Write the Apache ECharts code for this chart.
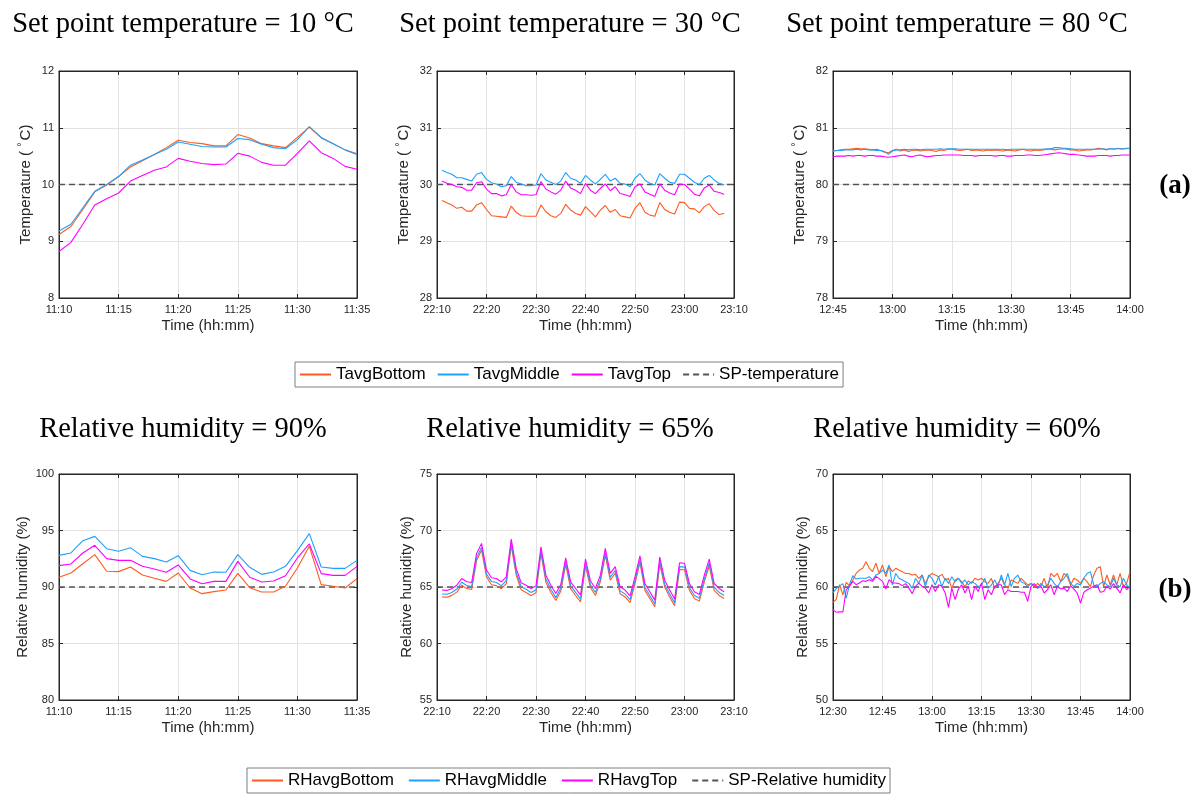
<!DOCTYPE html>
<html>
<head>
<meta charset="utf-8">
<script src="https://cdn.jsdelivr.net/npm/echarts@6/dist/echarts.min.js"></script>
<style>
  html, body { margin: 0; padding: 0; background: #fff; }
  #chart { width: 1199px; height: 794px; }
</style>
</head>
<body>
<div id="chart"></div>
<script>
// ---- data (times in minutes after midnight) ----
const tempTitles = ['Set point temperature = 10 °C', 'Set point temperature = 30 °C', 'Set point temperature = 80 °C'];
const rhTitles = ['Relative humidity = 90%', 'Relative humidity = 65%', 'Relative humidity = 60%'];
const tempNames = ['TavgBottom', 'TavgMiddle', 'TavgTop', 'SP-temperature'];
const rhNames = ['RHavgBottom', 'RHavgMiddle', 'RHavgTop', 'SP-Relative humidity'];
const spTemp = [10, 30, 80];
const spRH = [90, 65, 60];

// sample start (min) and step (min) of each panel
const sampleStart = [670, 1331, 765, 670, 1331, 750];
const sampleStep = [1, 1, 1, 1, 1, 1];

// panel 1: 10 °C, 11:10-11:35
const t10Bottom = [9.12, 9.26, 9.56, 9.87, 9.99, 10.14, 10.31, 10.42, 10.53, 10.65, 10.78, 10.74, 10.72, 10.68, 10.68, 10.88, 10.82, 10.72, 10.68, 10.65, 10.83, 11.01, 10.82, 10.72, 10.61, 10.54];
const t10Middle = [9.18, 9.30, 9.59, 9.88, 10.00, 10.14, 10.34, 10.43, 10.53, 10.62, 10.75, 10.71, 10.67, 10.66, 10.66, 10.81, 10.79, 10.71, 10.65, 10.63, 10.79, 11.02, 10.83, 10.72, 10.61, 10.53];
const t10Top = [8.82, 8.98, 9.30, 9.64, 9.75, 9.85, 10.06, 10.16, 10.25, 10.31, 10.46, 10.41, 10.37, 10.35, 10.36, 10.55, 10.50, 10.39, 10.34, 10.34, 10.55, 10.77, 10.56, 10.46, 10.32, 10.27];

// panel 2: 30 °C, 22:11-23:08
const t30Bottom = [29.72, 29.68, 29.64, 29.58, 29.60, 29.53, 29.53, 29.64, 29.68, 29.56,
  29.45, 29.44, 29.43, 29.42, 29.62, 29.51, 29.45, 29.44, 29.44, 29.44,
  29.64, 29.52, 29.45, 29.42, 29.49, 29.65, 29.55, 29.49, 29.46, 29.61,
  29.52, 29.43, 29.55, 29.63, 29.51, 29.56, 29.45, 29.43, 29.41, 29.58,
  29.68, 29.51, 29.46, 29.44, 29.68, 29.56, 29.51, 29.48, 29.69, 29.68,
  29.58, 29.57, 29.50, 29.61, 29.66, 29.54, 29.47, 29.49];
const t30Middle = [30.25, 30.21, 30.18, 30.12, 30.12, 30.09, 30.06, 30.18, 30.21, 30.09,
  30.03, 30.01, 29.96, 29.98, 30.14, 30.04, 30.01, 29.98, 29.98, 29.99,
  30.19, 30.08, 30.04, 30.00, 30.06, 30.21, 30.11, 30.08, 30.02, 30.16,
  30.08, 30.01, 30.09, 30.18, 30.06, 30.11, 30.02, 30.01, 29.96, 30.11,
  30.19, 30.08, 30.02, 29.99, 30.19, 30.11, 30.04, 30.02, 30.18, 30.18,
  30.11, 30.04, 30.00, 30.11, 30.16, 30.08, 30.02, 29.99];
const t30Top = [30.06, 30.02, 30.00, 29.96, 29.95, 29.90, 29.90, 30.03, 30.05, 29.92,
  29.84, 29.84, 29.80, 29.82, 30.00, 29.87, 29.82, 29.82, 29.81, 29.82,
  30.05, 29.92, 29.87, 29.83, 29.90, 30.06, 29.94, 29.90, 29.84, 30.02,
  29.90, 29.84, 29.93, 30.01, 29.89, 29.96, 29.84, 29.82, 29.79, 29.96,
  30.01, 29.87, 29.83, 29.79, 30.01, 29.90, 29.85, 29.82, 30.01, 30.00,
  29.92, 29.83, 29.80, 29.94, 29.99, 29.88, 29.86, 29.83];

// panel 3: 80 °C, 12:45-14:00
const t80Bottom = [80.59, 80.60, 80.61, 80.62, 80.62, 80.63, 80.64, 80.63, 80.63, 80.62,
  80.61, 80.62, 80.60, 80.57, 80.56, 80.60, 80.62, 80.59, 80.61, 80.58,
  80.60, 80.61, 80.59, 80.60, 80.61, 80.60, 80.58, 80.61, 80.60, 80.62,
  80.62, 80.61, 80.60, 80.61, 80.62, 80.60, 80.61, 80.60, 80.59, 80.61,
  80.60, 80.61, 80.60, 80.59, 80.61, 80.60, 80.59, 80.61, 80.62, 80.60,
  80.59, 80.61, 80.60, 80.61, 80.62, 80.62, 80.61, 80.62, 80.63, 80.62,
  80.61, 80.61, 80.59, 80.60, 80.61, 80.61, 80.62, 80.64, 80.63, 80.61,
  80.63, 80.62, 80.64, 80.62, 80.64, 80.64];
const t80Middle = [80.59, 80.60, 80.60, 80.61, 80.61, 80.61, 80.62, 80.61, 80.62, 80.61,
  80.61, 80.60, 80.60, 80.58, 80.53, 80.59, 80.61, 80.61, 80.62, 80.61,
  80.62, 80.62, 80.61, 80.62, 80.62, 80.62, 80.62, 80.63, 80.62, 80.63,
  80.63, 80.63, 80.62, 80.62, 80.62, 80.62, 80.62, 80.62, 80.62, 80.62,
  80.62, 80.62, 80.62, 80.62, 80.61, 80.62, 80.62, 80.62, 80.62, 80.62,
  80.62, 80.62, 80.62, 80.62, 80.63, 80.63, 80.65, 80.65, 80.64, 80.64,
  80.63, 80.62, 80.62, 80.62, 80.62, 80.62, 80.62, 80.62, 80.63, 80.62,
  80.63, 80.63, 80.63, 80.63, 80.63, 80.64];
const t80Top = [80.49, 80.50, 80.50, 80.50, 80.51, 80.50, 80.51, 80.51, 80.50, 80.51,
  80.51, 80.50, 80.50, 80.49, 80.48, 80.49, 80.50, 80.51, 80.52, 80.50,
  80.49, 80.51, 80.52, 80.50, 80.49, 80.50, 80.51, 80.51, 80.52, 80.52,
  80.52, 80.52, 80.52, 80.51, 80.51, 80.51, 80.50, 80.51, 80.51, 80.51,
  80.51, 80.50, 80.51, 80.51, 80.50, 80.50, 80.51, 80.51, 80.51, 80.52,
  80.52, 80.51, 80.51, 80.52, 80.53, 80.54, 80.55, 80.56, 80.55, 80.54,
  80.53, 80.53, 80.52, 80.51, 80.50, 80.50, 80.50, 80.51, 80.51, 80.51,
  80.50, 80.51, 80.51, 80.52, 80.52, 80.52];

// panel 4: RH 90 %, 11:10-11:35
const rh90Bottom = [90.86, 91.24, 92.06, 92.86, 91.39, 91.36, 91.77, 91.06, 90.77, 90.50, 91.24, 89.91, 89.41, 89.59, 89.73, 91.21, 89.94, 89.56, 89.56, 90.06, 91.68, 93.60, 90.21, 90.06, 89.91, 90.74];
const rh90Middle = [92.80, 93.01, 94.10, 94.48, 93.39, 93.16, 93.48, 92.71, 92.51, 92.21, 92.77, 91.47, 91.09, 91.33, 91.30, 92.86, 91.74, 91.12, 91.33, 91.83, 93.22, 94.72, 91.77, 91.65, 91.65, 92.36];
const rh90Top = [91.89, 92.04, 93.01, 93.69, 92.51, 92.36, 92.36, 91.83, 91.59, 91.30, 91.95, 90.71, 90.29, 90.50, 90.50, 92.27, 90.86, 90.44, 90.53, 91.00, 92.57, 93.81, 91.18, 91.03, 91.03, 91.83];

// panel 5: RH 65 %, 22:11-23:08
const rh65Bottom = [64.12, 64.10, 64.26, 64.55, 65.16, 64.86, 64.78, 67.35, 68.28, 65.90,
  65.20, 65.12, 64.85, 65.30, 68.65, 66.05, 64.75, 64.52, 64.25, 64.50,
  67.98, 65.42, 64.52, 63.80, 64.62, 67.00, 64.85, 64.25, 63.68, 66.88,
  64.95, 64.25, 65.45, 67.82, 65.60, 66.22, 64.40, 64.12, 63.62, 65.30,
  67.18, 64.70, 63.98, 63.25, 67.05, 65.00, 64.12, 63.35, 66.55, 66.52,
  64.70, 63.98, 63.75, 65.45, 66.88, 64.70, 64.25, 63.98];
const rh65Middle = [64.38, 64.36, 64.52, 64.82, 65.42, 65.13, 65.05, 67.60, 68.52, 66.15,
  65.48, 65.40, 65.12, 65.56, 68.90, 66.30, 65.02, 64.80, 64.52, 64.76,
  68.22, 65.70, 64.80, 64.06, 64.88, 67.24, 65.12, 64.52, 63.94, 67.13,
  65.20, 64.52, 65.70, 68.07, 65.86, 66.46, 64.66, 64.38, 63.88, 65.56,
  67.42, 64.96, 64.24, 63.50, 67.30, 65.25, 64.38, 63.60, 66.80, 66.76,
  64.96, 64.24, 64.00, 65.70, 67.13, 64.96, 64.52, 64.24];
const rh65Top = [64.73, 64.70, 64.87, 65.16, 65.75, 65.46, 65.40, 67.97, 68.86, 66.50,
  65.82, 65.75, 65.46, 65.90, 69.24, 66.65, 65.38, 65.16, 64.87, 65.10,
  68.56, 66.05, 65.16, 64.42, 65.22, 67.58, 65.46, 64.87, 64.28, 67.47,
  65.55, 64.87, 66.05, 68.41, 66.20, 66.80, 65.02, 64.73, 64.22, 65.90,
  67.76, 65.31, 64.58, 63.84, 67.64, 65.60, 64.73, 63.93, 67.15, 67.10,
  65.31, 64.58, 64.34, 66.05, 67.47, 65.31, 64.87, 64.58];

// panel 6: RH 60 %, 12:30-14:00
const rh60Bottom = [58.64, 58.90, 60.20, 59.30, 60.40, 60.10, 60.60, 61.20, 61.50, 61.65,
  62.24, 61.65, 61.36, 62.10, 61.20, 61.95, 60.91, 61.80, 61.36, 61.65,
  61.50, 61.36, 61.20, 61.20, 61.06, 61.12, 60.77, 61.06, 60.32, 60.91,
  61.20, 61.06, 60.91, 61.12, 60.62, 60.77, 59.88, 60.62, 60.77, 60.47,
  60.03, 60.53, 60.32, 60.77, 60.62, 60.77, 60.47, 60.32, 60.77, 59.88,
  60.32, 60.77, 60.18, 59.88, 60.62, 60.47, 60.32, 60.77, 60.47, 60.18,
  60.32, 60.03, 60.32, 60.03, 60.77, 59.88, 61.20, 60.91, 61.20, 60.47,
  61.20, 60.91, 60.18, 60.77, 60.62, 60.32, 60.77, 60.47, 60.03, 61.06,
  61.65, 61.80, 60.03, 61.06, 60.18, 61.06, 60.18, 61.20, 60.03, 60.32,
  61.36];
const rh60Middle = [59.50, 59.85, 60.10, 60.30, 59.00, 60.20, 61.00, 60.70, 60.77, 60.77,
  60.77, 60.91, 60.62, 61.06, 61.20, 61.50, 61.20, 61.95, 60.18, 61.20,
  60.77, 60.62, 60.47, 60.32, 59.88, 60.77, 60.32, 61.06, 60.03, 61.06,
  60.77, 60.18, 60.91, 60.03, 60.77, 60.32, 60.91, 60.47, 60.77, 60.32,
  60.62, 60.18, 60.47, 60.32, 60.03, 60.18, 60.77, 59.88, 60.18, 60.62,
  60.03, 61.06, 60.18, 61.20, 60.03, 60.77, 61.06, 60.47, 60.32, 60.03,
  60.32, 60.18, 59.88, 60.32, 60.03, 60.18, 60.77, 60.32, 60.03, 60.47,
  60.77, 61.20, 60.32, 60.03, 60.32, 60.18, 60.77, 61.20, 61.36, 60.18,
  60.03, 60.32, 60.47, 60.18, 60.03, 60.77, 60.18, 60.03, 60.77, 60.18,
  59.88];
const rh60Top = [58.00, 57.76, 57.80, 57.80, 59.76, 60.06, 60.50, 60.20, 60.35, 60.56,
  60.50, 60.65, 60.50, 60.94, 60.74, 60.50, 59.82, 60.65, 60.35, 60.35,
  60.30, 60.12, 60.30, 59.90, 59.40, 60.06, 60.35, 60.06, 59.90, 59.47,
  60.20, 59.60, 60.20, 60.06, 59.47, 58.20, 59.90, 58.88, 59.82, 60.20,
  59.47, 60.06, 58.88, 60.06, 59.60, 60.35, 58.88, 59.76, 59.32, 60.06,
  60.20, 60.20, 59.32, 59.76, 59.60, 59.60, 59.60, 59.53, 59.53, 58.73,
  60.06, 60.30, 59.90, 60.06, 59.47, 59.76, 60.20, 59.32, 60.06, 59.82,
  59.90, 59.60, 60.12, 59.82, 59.47, 58.58, 59.53, 59.76, 59.90, 60.06,
  60.20, 59.53, 59.60, 60.06, 59.82, 60.30, 59.90, 59.47, 60.20, 59.76,
  60.06];

// axis ranges: [min, max, interval]
const xRanges = [[670, 695, 5], [1330, 1390, 10], [765, 840, 15], [670, 695, 5], [1330, 1390, 10], [750, 840, 15]];
const yRanges = [[8, 12, 1], [28, 32, 1], [78, 82, 1], [80, 100, 5], [55, 75, 5], [50, 70, 5]];

const panelData = [
    [t10Bottom, t10Middle, t10Top], [t30Bottom, t30Middle, t30Top], [t80Bottom, t80Middle, t80Top],
    [rh90Bottom, rh90Middle, rh90Top], [rh65Bottom, rh65Middle, rh65Top], [rh60Bottom, rh60Middle, rh60Top]
];

// ---- layout ----
const FONT = 'Liberation Sans, Arial, sans-serif';
const SERIF = 'Liberation Serif, Times New Roman, serif';
const INK = '#262626';
const lineColors = ['#FF5A1F', '#1FA0FA', '#FF00FF'];
const spColor = '#555555';

const grids = [
    { left: 59, top: 71, width: 298, height: 227 },
    { left: 437, top: 71, width: 297, height: 227 },
    { left: 833, top: 71, width: 297, height: 227 },
    { left: 59, top: 474, width: 298, height: 226 },
    { left: 437, top: 474, width: 297, height: 226 },
    { left: 833, top: 474, width: 297, height: 226 }
];
const yNameGaps = [23, 23, 23, 29, 23, 23];
const titleCenters = [183, 570, 957];

const hhmm = (m) => Math.floor(m / 60) + ':' + String(m % 60).padStart(2, '0');
const toPairs = (start, step, vals) => vals.map((v, i) => [start + i * step, v]);

const chart = echarts.init(document.getElementById('chart'));

const gridOpt = [];
const xAxes = [];
const yAxes = [];
const series = [];

grids.forEach((g, i) => {
    gridOpt.push(Object.assign({
        show: true, borderColor: INK, borderWidth: 1, backgroundColor: '#fff',
        containLabel: false, outerBoundsMode: 'none'
    }, g));
    const [x0, x1, dx] = xRanges[i];
    const [y0, y1, dy] = yRanges[i];
    const isTemp = i < 3;

    // main axes
    xAxes.push({
        type: 'value', gridIndex: i, min: x0, max: x1, interval: dx,
        axisLine: { show: true, lineStyle: { color: INK } },
        axisTick: { show: true, inside: true, length: 4, lineStyle: { color: INK } },
        axisLabel: { formatter: hhmm, color: INK, fontSize: 11, fontFamily: FONT, margin: 6 },
        splitLine: { show: true, lineStyle: { color: '#e3e3e3' } },
        name: 'Time (hh:mm)', nameLocation: 'middle', nameGap: 20,
        nameTextStyle: { color: INK, fontSize: 15, fontFamily: FONT }
    });
    yAxes.push({
        type: 'value', gridIndex: i, min: y0, max: y1, interval: dy,
        axisLine: { show: true, lineStyle: { color: INK } },
        axisTick: { show: true, inside: true, length: 4, lineStyle: { color: INK } },
        axisLabel: { color: INK, fontSize: 11, fontFamily: FONT, margin: 5 },
        splitLine: { show: true, lineStyle: { color: '#e3e3e3' } },
        name: isTemp ? 'Temperature ( {sup|°}C)' : 'Relative humidity (%)',
        nameLocation: 'middle', nameGap: yNameGaps[i],
        nameTextStyle: {
            color: INK, fontSize: 15, fontFamily: FONT,
            rich: { sup: { fontSize: 11, fontFamily: FONT, color: INK, padding: [0, 2, 9, 0] } }
        }
    });
    // mirror axes for the ticks on the top and right edges
    xAxes.push({
        type: 'value', gridIndex: i, min: x0, max: x1, interval: dx, position: 'top',
        axisLine: { show: true, lineStyle: { color: INK } },
        axisTick: { show: true, inside: true, length: 4, lineStyle: { color: INK } },
        axisLabel: { show: false }, splitLine: { show: false }
    });
    yAxes.push({
        type: 'value', gridIndex: i, min: y0, max: y1, interval: dy, position: 'right',
        axisLine: { show: true, lineStyle: { color: INK } },
        axisTick: { show: true, inside: true, length: 4, lineStyle: { color: INK } },
        axisLabel: { show: false }, splitLine: { show: false }
    });

    const names = isTemp ? tempNames : rhNames;
    panelData[i].forEach((vals, k) => {
        series.push({
            name: names[k], type: 'line', xAxisIndex: i * 2, yAxisIndex: i * 2,
            data: toPairs(sampleStart[i], sampleStep[i], vals),
            symbol: 'none', showSymbol: false, silent: true,
            lineStyle: { color: lineColors[k], width: 1.1 },
            itemStyle: { color: lineColors[k] }
        });
    });
    const sp = isTemp ? spTemp[i] : spRH[i - 3];
    series.push({
        name: names[3], type: 'line', xAxisIndex: i * 2, yAxisIndex: i * 2,
        data: [[x0, sp], [x1, sp]],
        symbol: 'none', showSymbol: false, silent: true, z: 1,
        lineStyle: { color: spColor, width: 1.4, type: [6, 4] },
        itemStyle: { color: spColor }
    });
});

const titles = [];
tempTitles.forEach((t, i) => titles.push({
    text: t, left: titleCenters[i], top: 10, textAlign: 'center', padding: 0,
    textStyle: { fontFamily: SERIF, fontSize: 28.5, fontWeight: 'normal', color: '#000' }
}));
rhTitles.forEach((t, i) => titles.push({
    text: t, left: titleCenters[i], top: 415, textAlign: 'center', padding: 0,
    textStyle: { fontFamily: SERIF, fontSize: 28.5, fontWeight: 'normal', color: '#000' }
}));
titles.push({ text: '(a)', left: 1175, top: 173, textAlign: 'center', padding: 0,
    textStyle: { fontFamily: SERIF, fontSize: 27, fontWeight: 'bold', color: '#000' } });
titles.push({ text: '(b)', left: 1175, top: 577, textAlign: 'center', padding: 0,
    textStyle: { fontFamily: SERIF, fontSize: 27, fontWeight: 'bold', color: '#000' } });

const legendBase = {
    orient: 'horizontal', itemWidth: 31, itemHeight: 12, itemGap: 11, padding: [4, 4],
    borderColor: '#7f7f7f', borderWidth: 1, backgroundColor: '#fff', selectedMode: false,
    itemStyle: { opacity: 0 },
    textStyle: { fontSize: 17, color: '#000', fontFamily: FONT }
};

chart.setOption({
    animation: false,
    backgroundColor: '#fff',
    title: titles,
    legend: [
        Object.assign({}, legendBase, { data: tempNames, left: 295, top: 362 }),
        Object.assign({}, legendBase, { data: rhNames, left: 247, top: 768, itemGap: 14 })
    ],
    grid: gridOpt,
    xAxis: xAxes,
    yAxis: yAxes,
    series: series
});

window.addEventListener('resize', () => chart.resize());
</script>
</body>
</html>
